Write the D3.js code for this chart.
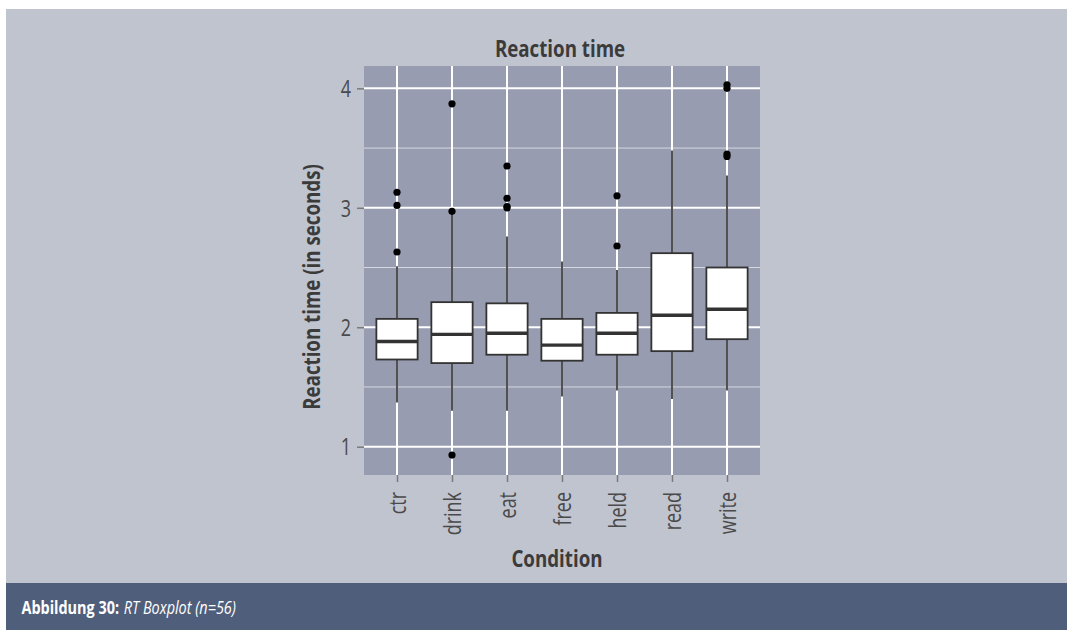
<!DOCTYPE html>
<html>
<head>
<meta charset="utf-8">
<script src="https://cdn.jsdelivr.net/npm/d3@7"></script>
<style>
  html, body { margin: 0; padding: 0; background: #ffffff; }
  svg { display: block; }
  text { font-family: "Open Sans", "Noto Sans", sans-serif; }
</style>
</head>
<body>
<svg id="chart" width="1067" height="630"></svg>
<script>
// Reaction time per condition (seconds), summarised as box plot statistics
const categories   = ["ctr", "drink", "eat", "free", "held", "read", "write"];
const lowerWhisker = [1.37, 1.30, 1.30, 1.42, 1.47, 1.40, 1.47];
const lowerHinge   = [1.73, 1.70, 1.77, 1.72, 1.77, 1.80, 1.90];
const medians      = [1.88, 1.94, 1.95, 1.85, 1.95, 2.10, 2.15];
const upperHinge   = [2.07, 2.21, 2.20, 2.07, 2.12, 2.62, 2.50];
const upperWhisker = [2.51, 2.95, 2.76, 2.55, 2.48, 3.48, 3.27];
const outliers     = [
  [3.13, 3.02, 2.63],
  [3.87, 2.97, 0.93],
  [3.35, 3.08, 3.01, 3.00],
  [],
  [3.10, 2.68],
  [],
  [4.03, 4.00, 3.45, 3.43]
];
const yTicks      = [1, 2, 3, 4];
const yMinorTicks = [1.5, 2.5, 3.5];

const chartTitle  = "Reaction time";
const yTitle      = "Reaction time (in seconds)";
const xTitle      = "Condition";
const captionHead = "Abbildung 30:";
const captionText = "RT Boxplot (n=56)";

const svg = d3.select("#chart");

// Layout
const panel = { left: 364, right: 760, top: 66, bottom: 475 };
const condense = 0.78;   // narrow the glyphs for a condensed face

function narrow(sel) {
  sel.each(function () {
    const w = this.getComputedTextLength();
    this.setAttribute("textLength", w * condense);
    this.setAttribute("lengthAdjust", "spacingAndGlyphs");
  });
}

// Backgrounds
svg.append("rect").attr("x", 6).attr("y", 9).attr("width", 1061).attr("height", 574)
  .attr("fill", "#c0c4cf");
svg.append("rect").attr("x", 6).attr("y", 583).attr("width", 1061).attr("height", 47)
  .attr("fill", "#4f5e7b");

// Scales
const x = d3.scalePoint().domain(categories).range([panel.left, panel.right]).padding(0.6);
const y = d3.scaleLinear().domain([0.763, 4.187]).range([panel.bottom, panel.top]);
const boxW = x.step() * 0.75;

// Panel and grid
svg.append("rect")
  .attr("x", panel.left).attr("y", panel.top)
  .attr("width", panel.right - panel.left).attr("height", panel.bottom - panel.top)
  .attr("fill", "#979cb0");

const grid = svg.append("g");
grid.selectAll("line.minor").data(yMinorTicks).join("line")
  .attr("x1", panel.left).attr("x2", panel.right)
  .attr("y1", d => y(d)).attr("y2", d => y(d))
  .attr("stroke", "#d4d7e0").attr("stroke-width", 1);
grid.selectAll("line.majorY").data(yTicks).join("line")
  .attr("x1", panel.left).attr("x2", panel.right)
  .attr("y1", d => y(d)).attr("y2", d => y(d))
  .attr("stroke", "#ffffff").attr("stroke-width", 2);
grid.selectAll("line.majorX").data(categories).join("line")
  .attr("x1", d => x(d)).attr("x2", d => x(d))
  .attr("y1", panel.top).attr("y2", panel.bottom)
  .attr("stroke", "#ffffff").attr("stroke-width", 2);

// Boxes
const stats = categories.map((c, i) => ({
  cat: c, lo: lowerWhisker[i], q1: lowerHinge[i], med: medians[i],
  q3: upperHinge[i], hi: upperWhisker[i], out: outliers[i]
}));

const boxes = svg.append("g").selectAll("g").data(stats).join("g");
const ink = "#333333";

boxes.append("line")
  .attr("x1", d => x(d.cat)).attr("x2", d => x(d.cat))
  .attr("y1", d => y(d.q3)).attr("y2", d => y(d.hi))
  .attr("stroke", ink).attr("stroke-width", 1.7);
boxes.append("line")
  .attr("x1", d => x(d.cat)).attr("x2", d => x(d.cat))
  .attr("y1", d => y(d.q1)).attr("y2", d => y(d.lo))
  .attr("stroke", ink).attr("stroke-width", 1.7);
boxes.append("rect")
  .attr("x", d => x(d.cat) - boxW / 2).attr("width", boxW)
  .attr("y", d => y(d.q3)).attr("height", d => y(d.q1) - y(d.q3))
  .attr("fill", "#ffffff").attr("stroke", ink).attr("stroke-width", 1.8);
boxes.append("line")
  .attr("x1", d => x(d.cat) - boxW / 2).attr("x2", d => x(d.cat) + boxW / 2)
  .attr("y1", d => y(d.med)).attr("y2", d => y(d.med))
  .attr("stroke", ink).attr("stroke-width", 3.4);
boxes.selectAll("circle").data(d => d.out.map(v => ({ cat: d.cat, v }))).join("circle")
  .attr("cx", d => x(d.cat)).attr("cy", d => y(d.v)).attr("r", 3.6)
  .attr("fill", "#000000");

// Axes
const tickColor = "#7a7a7a";
const labelColor = "#4a4a4a";

const yAxis = svg.append("g")
  .attr("transform", `translate(${panel.left},0)`)
  .call(d3.axisLeft(y).tickValues(yTicks).tickFormat(d3.format("d")).tickSize(7).tickPadding(6));
yAxis.select(".domain").remove();
yAxis.selectAll(".tick line").attr("stroke", tickColor).attr("stroke-width", 1.5);
yAxis.selectAll(".tick text")
  .attr("fill", labelColor).attr("font-size", 23).attr("dy", "0.36em")
  .call(narrow);

const xAxis = svg.append("g")
  .attr("transform", `translate(0,${panel.bottom})`)
  .call(d3.axisBottom(x).tickSize(7));
xAxis.select(".domain").remove();
xAxis.selectAll(".tick line").attr("stroke", tickColor).attr("stroke-width", 1.5);
xAxis.selectAll(".tick text")
  .attr("fill", labelColor).attr("font-size", 23)
  .attr("transform", "rotate(-90)")
  .attr("x", -17).attr("y", 0).attr("dy", "0.36em")
  .attr("text-anchor", "end")
  .call(narrow);

// Titles
const titleColor = "#3b3b3b";
svg.append("text")
  .attr("x", 560).attr("y", 56.5)
  .attr("text-anchor", "middle").attr("font-size", 24).attr("font-weight", 700)
  .attr("fill", titleColor).text(chartTitle).call(narrow);

svg.append("text")
  .attr("transform", "translate(320,287) rotate(-90)")
  .attr("text-anchor", "middle").attr("font-size", 24).attr("font-weight", 700)
  .attr("fill", titleColor).text(yTitle).call(narrow);

svg.append("text")
  .attr("x", 557).attr("y", 566.5)
  .attr("text-anchor", "middle").attr("font-size", 24).attr("font-weight", 700)
  .attr("fill", titleColor).text(xTitle).call(narrow);

// Caption bar: bold label then italic description, condensed as a group
const caption = svg.append("g")
  .attr("transform", `translate(21.5,613.5) scale(${condense},1)`)
  .attr("font-size", 18.5).attr("fill", "#ffffff");
const head = caption.append("text").attr("x", 0).attr("font-weight", 700).text(captionHead);
const headW = head.node().getComputedTextLength();
caption.append("text").attr("x", headW + 6).attr("font-style", "italic").text(captionText);
</script>
</body>
</html>
